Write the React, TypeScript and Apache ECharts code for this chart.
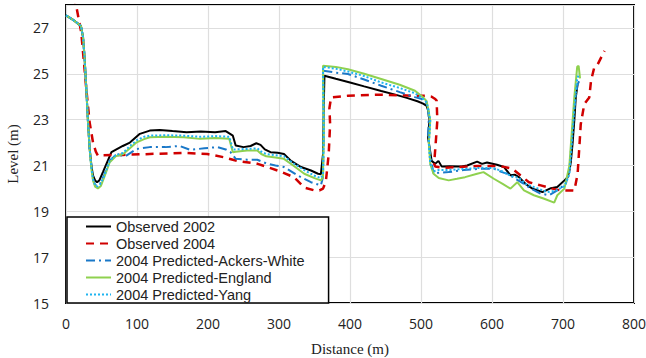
import React, { useEffect, useRef } from "react";
import * as echarts from "echarts";

// Bed level profiles along the reach (distance in m, level in m)
const obs2002Dist = [0, 10, 21, 24, 26, 28.6, 31, 33.3, 36, 38, 41, 43.7, 47, 52, 58, 64, 71, 80, 90, 104, 118, 132, 150, 170, 190, 210, 225, 230, 235, 239, 250, 260, 268, 274, 280, 288, 298, 307, 317, 331, 345, 355, 359, 362, 363, 364, 380, 400, 420, 444, 465, 480, 495, 503, 508, 510, 512, 511, 510, 512, 515, 520, 524.6, 529, 540, 557, 565, 579, 586, 593, 607, 617, 626, 632, 638, 647, 657, 671, 683, 692, 702, 706.5, 709, 711, 713.6, 716, 718, 720.6];
const obs2002Level = [27.55, 27.35, 27.09, 26.6, 25.78, 24.33, 22.88, 21.73, 20.95, 20.57, 20.35, 20.27, 20.35, 20.71, 21.15, 21.58, 21.7, 21.85, 22.0, 22.38, 22.52, 22.55, 22.5, 22.45, 22.48, 22.45, 22.5, 22.4, 22.3, 21.87, 21.8, 21.85, 21.97, 21.9, 21.7, 21.58, 21.55, 21.5, 21.2, 20.93, 20.78, 20.64, 20.62, 21.5, 23.5, 24.91, 24.78, 24.62, 24.45, 24.25, 24.08, 23.95, 23.8, 23.7, 23.6, 23.4, 23.0, 22.6, 22.2, 21.8, 21.2, 21.07, 21.2, 20.96, 20.97, 20.96, 21.0, 21.17, 21.07, 21.13, 21.03, 20.93, 20.57, 20.6, 20.49, 20.2, 19.99, 19.84, 20.01, 20.06, 20.35, 20.49, 20.78, 21.14, 22.0, 23.0, 23.97, 24.55];

const obs2004Dist = [10, 14.4, 21.5, 28.6, 33.3, 38, 42, 45, 52, 80, 118, 165, 199, 222, 241, 270, 298, 321, 336, 350, 357, 362, 366, 370, 372, 371, 373.4, 397, 444, 491.5, 506, 515, 520, 522, 523, 521, 518.5, 520, 532, 551, 579, 612, 628.5, 640, 652, 668.6, 685, 697, 711, 716, 720.6, 723, 725, 730, 737, 739.5, 744, 749, 758.5];
const obs2004Level = [28.4, 27.96, 26.8, 24.33, 22.88, 22.01, 21.6, 21.43, 21.45, 21.46, 21.5, 21.55, 21.5, 21.36, 21.2, 21.07, 20.78, 20.49, 20.03, 19.91, 19.91, 19.99, 20.3, 21.5, 22.8, 23.5, 23.97, 24.04, 24.09, 24.04, 24.04, 24.0, 23.9, 23.83, 22.96, 22.1, 21.07, 20.95, 20.9, 20.93, 20.98, 20.97, 20.86, 20.57, 20.27, 20.13, 19.99, 19.91, 19.91, 19.9, 20.64, 21.8, 22.8, 23.68, 23.97, 24.7, 25.27, 25.42, 26.0];

const ackersDist = [0, 10, 21, 24, 26, 28.6, 31, 33.3, 36, 38, 41, 44, 48, 54, 61, 70, 85, 99.5, 118, 140, 160, 175, 195, 213, 225, 231.7, 239, 255, 269.5, 284, 295, 307, 326, 345, 359, 362, 363, 362, 380, 397, 420, 444, 470, 491.5, 501, 507, 510, 511, 510, 513, 517.6, 525, 539, 560, 586, 602.6, 614, 621.5, 633, 645, 654.5, 668.6, 680.5, 692, 704, 709, 712, 716, 720, 723];
const ackersLevel = [27.55, 27.35, 27.09, 26.6, 25.78, 24.33, 22.88, 21.73, 20.85, 20.4, 20.15, 20.1, 20.2, 20.6, 21.2, 21.45, 21.43, 21.72, 21.8, 21.8, 21.85, 21.68, 21.75, 21.8, 21.7, 21.58, 21.29, 21.25, 21.25, 21.07, 21.0, 20.93, 20.57, 20.27, 20.13, 20.5, 22.5, 25.13, 25.05, 24.99, 24.75, 24.48, 24.2, 23.98, 23.9, 23.75, 23.5, 23.0, 22.3, 21.5, 20.64, 20.68, 20.71, 20.8, 20.86, 20.86, 20.71, 20.64, 20.42, 20.2, 19.99, 19.77, 19.7, 19.91, 20.2, 20.8, 22.0, 23.5, 24.5, 24.7];

const englandDist = [0, 10, 21, 24, 26, 28.6, 31, 33.3, 36, 38, 41, 45, 49, 54, 61.6, 70, 80.5, 90, 99.5, 110, 118, 140, 166, 189, 210, 230, 235, 239, 255, 269.5, 275, 282, 295, 307, 320, 335.6, 350, 359, 362, 363, 362, 380, 397, 420, 444, 470, 491.5, 503, 508, 510.5, 513, 512, 511, 513, 517.6, 525, 539, 550.6, 562, 579, 588, 602.6, 615, 626, 635.6, 645, 659, 673.5, 687.6, 692, 702, 709, 712, 716, 720, 722, 724];
const englandLevel = [27.55, 27.35, 27.09, 26.6, 25.78, 24.33, 22.88, 21.73, 20.8, 20.35, 20.08, 20.0, 20.1, 20.5, 21.14, 21.4, 21.5, 21.75, 22.01, 22.15, 22.23, 22.25, 22.23, 22.16, 22.2, 22.16, 21.58, 21.6, 21.65, 21.65, 21.5, 21.4, 21.35, 21.29, 21.0, 20.64, 20.45, 20.35, 20.5, 22.5, 25.35, 25.3, 25.2, 25.0, 24.77, 24.52, 24.26, 23.97, 23.8, 23.39, 22.96, 22.4, 22.0, 21.07, 20.64, 20.45, 20.35, 20.42, 20.49, 20.64, 20.71, 20.42, 20.2, 19.99, 20.27, 19.91, 19.7, 19.55, 19.38, 19.7, 19.99, 21.0, 22.3, 24.0, 25.3, 25.35, 24.8];

const yangDist = [0, 10, 21, 24, 26, 28.6, 31, 33.3, 36, 38, 41, 44, 48, 54, 61.6, 70, 80.5, 90, 99.5, 110, 118, 140, 166, 189, 210, 230, 235, 239, 255, 269.5, 275, 282, 295, 307, 320, 335.6, 350, 359, 362, 363, 362, 380, 397, 420, 444, 470, 491.5, 503, 508, 510.5, 513, 512, 511, 513, 517.6, 525, 539, 560, 586, 602.6, 614, 626, 638, 647, 659, 678, 690, 702, 709, 712, 716, 720, 723];
const yangLevel = [27.55, 27.35, 27.09, 26.6, 25.78, 24.33, 22.88, 21.73, 20.85, 20.4, 20.15, 20.08, 20.18, 20.55, 21.2, 21.45, 21.55, 21.85, 22.1, 22.25, 22.3, 22.32, 22.3, 22.25, 22.28, 22.25, 21.7, 21.7, 21.72, 21.75, 21.6, 21.5, 21.45, 21.4, 21.1, 20.8, 20.55, 20.45, 20.6, 22.5, 25.3, 25.22, 25.1, 24.9, 24.62, 24.38, 24.15, 23.9, 23.75, 23.4, 22.96, 22.4, 22.0, 21.07, 20.75, 20.8, 20.8, 20.85, 20.9, 20.88, 20.75, 20.55, 20.45, 20.2, 20.06, 19.84, 19.9, 20.1, 20.6, 21.8, 23.5, 24.8, 25.0];

// Level axis ticks, odd metres only
const yTickLabels = [15, 17, 19, 21, 23, 25, 27];
const yMin = 15;
const yMax = 28;

const zip = (xs: number[], ys: number[]) => xs.map((x, i) => [x, ys[i]]);

const SANS = "'Open Sans', 'Noto Sans', sans-serif";
const LEGEND_SANS = "'Liberation Sans', Arial, sans-serif";
const SERIF = "'Liberation Serif', 'DejaVu Serif', serif";

export default function App() {
  const ref = useRef<HTMLDivElement>(null);

  useEffect(() => {
    if (!ref.current) return;
    const chart = echarts.init(ref.current, undefined, { renderer: "svg" });
    const line = (
      name: string,
      xs: number[],
      ys: number[],
      color: string,
      width: number,
      type: any
    ) => ({
      name,
      type: "line",
      data: zip(xs, ys),
      symbol: "none",
      yAxisIndex: 0,
      clip: true,
      lineStyle: { color, width, type, cap: "butt" },
      itemStyle: { color },
    });

    chart.setOption({
      animation: false,
      backgroundColor: "#ffffff",
      grid: {
        left: 66,
        right: 12,
        top: 5,
        bottom: 55,
        show: true,
        borderColor: "#000",
        borderWidth: 2,
        outerBoundsMode: "none",
      },
      xAxis: {
        type: "value",
        min: 0,
        max: 800,
        interval: 100,
        name: "Distance (m)",
        nameLocation: "middle",
        nameGap: 38,
        nameTextStyle: { fontFamily: SERIF, fontSize: 15, color: "#222" },
        axisLine: { show: false },
        axisTick: { show: false },
        axisLabel: { fontFamily: SANS, fontSize: 14, color: "#222", margin: 13 },
        splitLine: { show: true, lineStyle: { color: "#dedede", width: 1.2 } },
      },
      yAxis: [
        {
          type: "value",
          min: yMin,
          max: yMax,
          show: false,
          splitLine: { show: false },
        },
        {
          // offset scale so the odd-metre levels fall on ticks
          type: "value",
          min: 0,
          max: yMax - yMin,
          interval: 2,
          position: "left",
          name: "Level (m)",
          nameLocation: "middle",
          nameGap: 46,
          nameRotate: 90,
          nameTextStyle: { fontFamily: SERIF, fontSize: 15, color: "#222" },
          axisLine: { show: false },
          axisTick: { show: false },
          axisLabel: {
            fontFamily: SANS,
            fontSize: 14,
            color: "#222",
            margin: 17,
            formatter: (v: number) => {
              const lv = v + yMin;
              return yTickLabels.includes(lv) ? String(lv) : "";
            },
          },
          splitLine: { show: true, lineStyle: { color: "#dedede", width: 1.2 } },
        },
      ],
      legend: {
        orient: "vertical",
        left: 67,
        top: 217,
        z: 10,
        backgroundColor: "#ffffff",
        borderColor: "#000",
        borderWidth: 1.5,
        borderRadius: 0,
        padding: [1, 24, 0, 18],
        itemWidth: 25,
        itemHeight: 14,
        itemGap: 0,
        itemStyle: { opacity: 0 },
        textStyle: { fontFamily: LEGEND_SANS, fontSize: 14.5, lineHeight: 17, color: "#222" },
        data: [
          "Observed 2002",
          "Observed 2004",
          "2004 Predicted-Ackers-White",
          "2004 Predicted-England",
          "2004 Predicted-Yang",
        ],
      },
      series: [
        line("Observed 2002", obs2002Dist, obs2002Level, "#000000", 2, "solid"),
        line("Observed 2004", obs2004Dist, obs2004Level, "#d00000", 2.5, [8, 6]),
        line("2004 Predicted-Ackers-White", ackersDist, ackersLevel, "#1a78c8", 2, [9, 4, 2, 4]),
        line("2004 Predicted-England", englandDist, englandLevel, "#8fd14f", 2, "solid"),
        line("2004 Predicted-Yang", yangDist, yangLevel, "#1eb4f0", 2, [2, 2]),
      ],
    });
    return () => chart.dispose();
  }, []);

  return (
    <div
      ref={ref}
      style={{ position: "absolute", left: 0, top: 0, width: 646, height: 358 }}
    />
  );
}
